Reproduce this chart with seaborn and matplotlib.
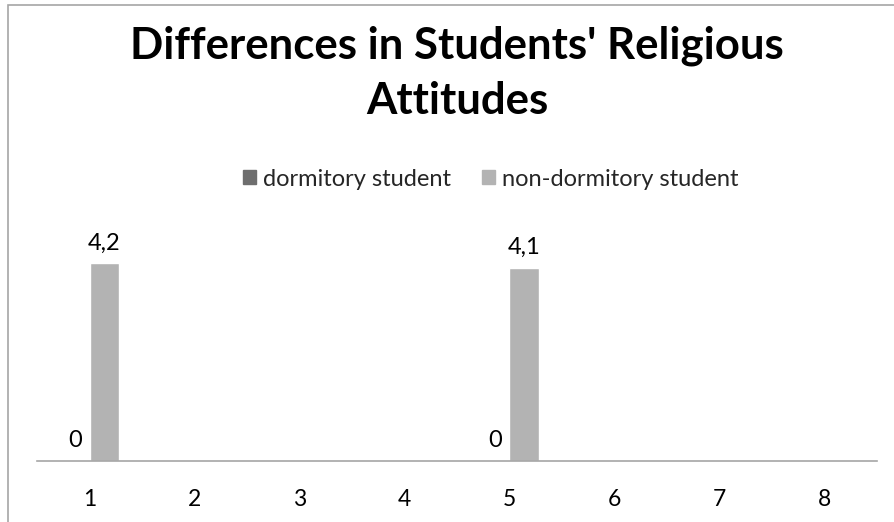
import numpy as np
import pandas as pd
import matplotlib
matplotlib.use("Agg")
import matplotlib.pyplot as plt
import matplotlib.patches as mpatches
import seaborn as sns

categories = ["1", "2", "3", "4", "5", "6", "7", "8"]
dormitory = [0, np.nan, np.nan, np.nan, 0, np.nan, np.nan, np.nan]
non_dormitory = [4.2, np.nan, np.nan, np.nan, 4.1, np.nan, np.nan, np.nan]
series_names = ["dormitory student", "non-dormitory student"]
title_lines = ["Differences in Students' Religious", "Attitudes"]

df = pd.DataFrame({
    "category": categories * 2,
    "value": dormitory + non_dormitory,
    "series": [series_names[0]] * len(categories) + [series_names[1]] * len(categories),
})

sns.set_theme(style="white")
plt.rcParams["font.family"] = ["Lato", "DejaVu Sans"]

colors = {"dormitory student": "#6e6e6e", "non-dormitory student": "#b3b3b3"}

fig = plt.figure(figsize=(8.94, 5.22), dpi=100)
ax = fig.add_axes([37 / 894, 1 - 461 / 522, (877 - 37) / 894, (461 - 249) / 522])

sns.barplot(data=df, x="category", y="value", hue="series", order=categories,
            hue_order=series_names, palette=colors, width=0.56, ax=ax,
            legend=False, errorbar=None, saturation=1)

ax.set_ylim(0, 4.5)
ax.set_xlim(-0.5, len(categories) - 0.5)
ax.set_xlabel("")
ax.set_ylabel("")
ax.set_yticks([])
for s in ["left", "right", "top"]:
    ax.spines[s].set_visible(False)
ax.spines["bottom"].set_color("#a6a6a6")
ax.spines["bottom"].set_linewidth(1.2)
ax.tick_params(axis="x", length=0, labelsize=16.5, pad=20, colors="#000000")

for cont in ax.containers:
    labels = []
    for p in cont:
        h = p.get_height()
        if h is None or np.isnan(h):
            labels.append("")
        else:
            labels.append(("%g" % h).replace(".", ","))
    ax.bar_label(cont, labels=labels, padding=7, fontsize=17, color="#000000")

for line, ypix in zip(title_lines, [46, 101]):
    fig.text(457 / 894, 1 - ypix / 522, line, ha="center", va="center",
             fontsize=31.5, fontweight="bold", color="#000000")

handles = [mpatches.Patch(color=colors[n], label=n) for n in series_names]
fig.legend(handles=handles, loc="center", bbox_to_anchor=(491 / 894, 1 - 179 / 522),
           ncol=2, frameon=False, fontsize=17, handlelength=0.55, handleheight=0.55,
           handletextpad=0.3, columnspacing=1.3)

frame = mpatches.Rectangle((8 / 894, -0.1), 1.2, 1 - 5 / 522 + 0.1,
                           transform=fig.transFigure, fill=False,
                           edgecolor="#a6a6a6", linewidth=1.2)
fig.patches.append(frame)

fig.savefig("out.png", dpi=100)
